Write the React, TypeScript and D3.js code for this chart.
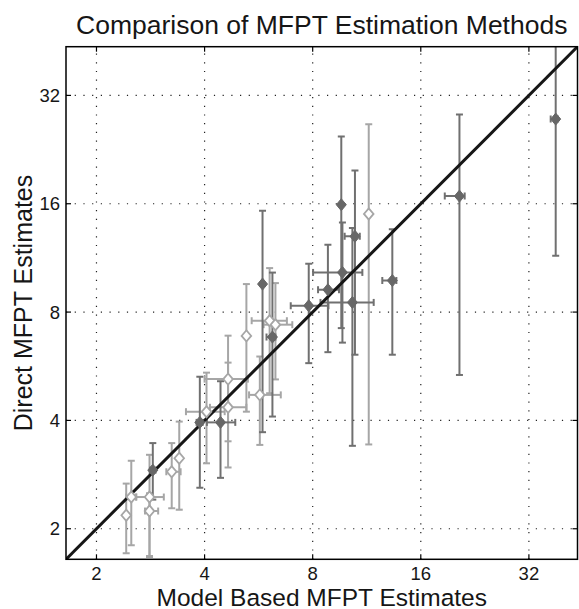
import React, { useEffect, useRef } from 'react';
import * as d3 from 'd3';

// filled (dark) series
const darkX = [9.61, 9.68, 10.49, 10.32, 13.33, 8.82, 7.8, 20.5, 38.0, 5.8, 6.18, 3.88, 4.43, 2.87];
const darkY = [15.9, 10.31, 12.99, 8.51, 9.79, 9.23, 8.33, 16.8, 27.5, 9.57, 6.82, 3.95, 3.95, 2.91];
const darkXLo = [9.61, 8.02, 9.82, 8.41, 12.5, 8.28, 6.95, 18.66, 36.8, 5.8, 5.95, 3.8, 4.06, 2.82];
const darkXHi = [9.61, 11.0, 10.82, 11.83, 13.68, 9.47, 8.85, 21.2, 38.5, 5.8, 6.3, 3.95, 4.87, 2.92];
const darkYLo = [7.22, 6.58, 6.09, 3.4, 6.09, 6.19, 5.77, 5.35, 11.47, 3.71, 4.1, 2.6, 2.77, 2.41];
const darkYHi = [24.6, 14.2, 19.8, 13.7, 13.6, 12.3, 10.9, 28.3, 46, 15.3, 10.3, 5.29, 5.14, 3.46];

// open (light) series
const lightX = [11.46, 6.07, 6.3, 5.23, 5.7, 4.65, 4.65, 4.05, 2.42, 2.5, 2.81, 2.81, 3.24, 3.4];
const lightY = [14.99, 7.57, 7.38, 6.87, 4.71, 5.21, 4.35, 4.23, 2.18, 2.45, 2.45, 2.24, 2.88, 3.14];
const lightXLo = [11.46, 5.41, 5.84, 5.23, 5.32, 4.0, 4.14, 3.55, 2.42, 2.42, 2.58, 2.73, 3.13, 3.4];
const lightXHi = [11.46, 6.78, 7.02, 5.23, 6.52, 5.28, 5.23, 4.55, 2.42, 2.58, 3.08, 2.97, 3.43, 3.4];
const lightYLo = [3.43, 4.76, 5.2, 4.23, 3.42, 3.5, 2.96, 3.04, 1.71, 1.8, 1.67, 1.68, 2.28, 2.26];
const lightYHi = [26.6, 10.6, 9.63, 9.57, 6.02, 6.88, 5.79, 5.43, 2.67, 3.09, 3.21, 2.51, 3.46, 3.97];

const ticks = [2, 4, 8, 16, 32];
const domain = [1.645, 43.7];

const FONT = '"Liberation Sans", Arial, Helvetica, sans-serif';

// MATLAB-style diamond, nearly as wide as tall
const diamondPath = (w: number, h: number) => `M0,${-h}L${w},0L0,${h}L${-w},0Z`;

const App = () => {
  const ref = useRef<SVGSVGElement>(null);

  useEffect(() => {
    const svg = d3.select(ref.current);
    svg.selectAll('*').remove();

    const left = 66, right = 577.5, top = 46.7, bottom = 559.3;
    const x = d3.scaleLog().base(2).domain(domain).range([left, right]);
    const y = d3.scaleLog().base(2).domain(domain).range([bottom, top]);

    svg.append('defs').append('clipPath').attr('id', 'plotclip')
      .append('rect').attr('x', left).attr('y', top)
      .attr('width', right - left).attr('height', bottom - top);

    // dotted grid
    const grid = svg.append('g').attr('stroke', '#222').attr('stroke-width', 1.2)
      .attr('stroke-dasharray', '1.2,7.5');
    ticks.forEach(t => {
      grid.append('line').attr('x1', x(t)).attr('x2', x(t)).attr('y1', bottom).attr('y2', top);
      grid.append('line').attr('y1', y(t)).attr('y2', y(t)).attr('x1', left).attr('x2', right);
    });

    const plot = svg.append('g').attr('clip-path', 'url(#plotclip)');

    const drawBars = (xs, ys, xlo, xhi, ylo, yhi, color) => {
      const g = plot.append('g').attr('stroke', color).attr('stroke-width', 2).attr('fill', 'none');
      xs.forEach((xv, i) => {
        const cx = x(xv), cy = y(ys[i]);
        g.append('line').attr('x1', cx).attr('x2', cx).attr('y1', y(ylo[i])).attr('y2', y(yhi[i]));
        g.append('line').attr('x1', cx - 3.5).attr('x2', cx + 3.5).attr('y1', y(ylo[i])).attr('y2', y(ylo[i]));
        g.append('line').attr('x1', cx - 3.5).attr('x2', cx + 3.5).attr('y1', y(yhi[i])).attr('y2', y(yhi[i]));
        if (xhi[i] > xlo[i]) {
          g.append('line').attr('y1', cy).attr('y2', cy).attr('x1', x(xlo[i])).attr('x2', x(xhi[i]));
          g.append('line').attr('y1', cy - 3.5).attr('y2', cy + 3.5).attr('x1', x(xlo[i])).attr('x2', x(xlo[i]));
          g.append('line').attr('y1', cy - 3.5).attr('y2', cy + 3.5).attr('x1', x(xhi[i])).attr('x2', x(xhi[i]));
        }
      });
    };

    drawBars(lightX, lightY, lightXLo, lightXHi, lightYLo, lightYHi, '#a6a6a6');
    drawBars(darkX, darkY, darkXLo, darkXHi, darkYLo, darkYHi, '#707070');

    // identity line
    plot.append('line')
      .attr('x1', x(domain[0])).attr('y1', y(domain[0]))
      .attr('x2', x(domain[1])).attr('y2', y(domain[1]))
      .attr('stroke', '#161616').attr('stroke-width', 3);

    plot.append('g').selectAll('path').data(lightX).enter().append('path')
      .attr('d', diamondPath(4.8, 5.6))
      .attr('transform', (d, i) => `translate(${x(d)},${y(lightY[i])})`)
      .attr('fill', '#fff').attr('stroke', '#a6a6a6').attr('stroke-width', 1.8);
    plot.append('g').selectAll('path').data(darkX).enter().append('path')
      .attr('d', diamondPath(5, 6))
      .attr('transform', (d, i) => `translate(${x(d)},${y(darkY[i])})`)
      .attr('fill', '#676767').attr('stroke', '#676767').attr('stroke-width', 1);

    // ticks on all four sides
    const tk = svg.append('g').attr('stroke', '#000').attr('stroke-width', 1.2);
    ticks.forEach(t => {
      tk.append('line').attr('x1', x(t)).attr('x2', x(t)).attr('y1', bottom).attr('y2', bottom - 5);
      tk.append('line').attr('x1', x(t)).attr('x2', x(t)).attr('y1', top).attr('y2', top + 5);
      tk.append('line').attr('y1', y(t)).attr('y2', y(t)).attr('x1', left).attr('x2', left + 5);
      tk.append('line').attr('y1', y(t)).attr('y2', y(t)).attr('x1', right).attr('x2', right - 5);
    });

    svg.append('rect')
      .attr('x', left).attr('y', top).attr('width', right - left).attr('height', bottom - top)
      .attr('fill', 'none').attr('stroke', '#000').attr('stroke-width', 1.5);

    const lab = svg.append('g').style('font-family', FONT).attr('fill', '#161616');
    ticks.forEach(t => {
      lab.append('text').attr('x', x(t)).attr('y', bottom + 20.5)
        .attr('text-anchor', 'middle').style('font-size', '18.5px').text(t);
      lab.append('text').attr('x', left - 6).attr('y', y(t) + 6.6)
        .attr('text-anchor', 'end').style('font-size', '18.5px').text(t);
    });

    lab.append('text').attr('x', (left + right) / 2).attr('y', 33.5)
      .attr('text-anchor', 'middle').style('font-size', '26.5px')
      .text('Comparison of MFPT Estimation Methods');
    lab.append('text').attr('x', (left + right) / 2).attr('y', 605.5)
      .attr('text-anchor', 'middle').style('font-size', '24.5px')
      .text('Model Based MFPT Estimates');
    lab.append('text')
      .attr('transform', `translate(32,${(top + bottom) / 2}) rotate(-90)`)
      .attr('text-anchor', 'middle').style('font-size', '25px')
      .text('Direct MFPT Estimates');
  }, []);

  return (
    <svg ref={ref} width={579} height={609}
      style={{ position: 'absolute', left: 0, top: 0, background: '#fff' }} />
  );
};

export default App;
